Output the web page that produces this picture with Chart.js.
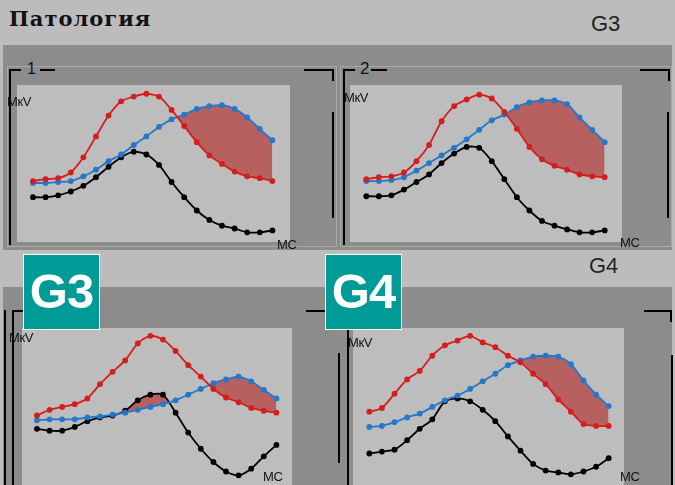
<!DOCTYPE html>
<html>
<head>
<meta charset="utf-8">
<script src="https://cdn.jsdelivr.net/npm/chart.js@4.4.1/dist/chart.umd.min.js"></script>
<style>
  html, body { margin: 0; padding: 0; }
  body { width: 675px; height: 485px; position: relative; overflow: hidden; background: #bcbcbc; font-family: "Liberation Sans", Arial, sans-serif; }
  .band { position: absolute; background: #8c8c8c; }
  .plot { position: absolute; background: #bdbdbd; }
  .frame { position: absolute; border: 1px solid #a9a9a9; box-sizing: border-box; }
  .ln { position: absolute; background: #000; }
  .title { position: absolute; font-family: "DejaVu Serif", serif; font-weight: bold; font-size: 21px; letter-spacing: 1px; color: #111; line-height: 21px; }
  .glabel { position: absolute; font-size: 22px; color: #222; line-height: 22px; }
  .unit { position: absolute; font-size: 13px; color: #111; line-height: 13px; letter-spacing: -0.4px; }
  .num { position: absolute; font-size: 16px; color: #111; line-height: 16px; }
  .badge { position: absolute; width: 77px; height: 76px; background: #009a97; border: 1.5px solid #fff; box-sizing: border-box;
           color: #fff; font-weight: bold; font-size: 49px; line-height: 73px; text-align: center; letter-spacing: -1px; }
  canvas { position: absolute; }
</style>
</head>
<body>

<div class="title" style="left:9px; top:8px;">Патология</div>
<div class="glabel" style="left:591px; top:13px;">G3</div>

<!-- upper strip with leads 1 and 2 -->
<div class="band" style="left:3px; top:45px; width:669px; height:205px;"></div>
<div class="frame" style="left:7px; top:66px; width:330px; height:181px;"></div>
<div class="frame" style="left:340px; top:66px; width:332px; height:181px;"></div>
<div class="plot" style="left:17px; top:85px; width:273px; height:157px;"></div>
<div class="plot" style="left:350px; top:85px; width:272px; height:157px;"></div>

<!-- lead 1 brackets -->
<div class="ln" style="left:9px; top:69px; width:2px; height:176px;"></div>
<div class="ln" style="left:9px; top:69px; width:12px; height:2px;"></div>
<div class="num" style="left:27px; top:61px;">1</div>
<div class="ln" style="left:40px; top:69px; width:15px; height:2px;"></div>
<div class="ln" style="left:304px; top:69px; width:30px; height:2px;"></div>
<div class="ln" style="left:332px; top:69px; width:2px; height:12px;"></div>
<div class="ln" style="left:332px; top:112px; width:2px; height:106px;"></div>

<!-- lead 2 brackets -->
<div class="ln" style="left:343px; top:69px; width:2px; height:176px;"></div>
<div class="ln" style="left:343px; top:69px; width:12px; height:2px;"></div>
<div class="num" style="left:360px; top:61px; font-size:17px;">2</div>
<div class="ln" style="left:371px; top:69px; width:16px; height:2px;"></div>
<div class="ln" style="left:640px; top:69px; width:30px; height:2px;"></div>
<div class="ln" style="left:668px; top:69px; width:2px; height:12px;"></div>
<div class="ln" style="left:667px; top:112px; width:2px; height:106px;"></div>

<canvas id="c1" width="273" height="157" style="left:17px; top:85px;"></canvas>
<canvas id="c2" width="272" height="157" style="left:350px; top:85px;"></canvas>

<div class="unit" style="left:7px; top:95px;">МкV</div>
<div class="unit" style="left:344px; top:91px;">МкV</div>
<div class="unit" style="left:277px; top:238px;">МС</div>
<div class="unit" style="left:620px; top:236px;">МС</div>

<!-- lower strip -->
<div class="glabel" style="left:589px; top:255px;">G4</div>
<div class="band" style="left:3px; top:287px; width:669px; height:198px;"></div>
<div class="plot" style="left:22px; top:328px; width:270px; height:157px;"></div>
<div class="plot" style="left:353px; top:328px; width:271px; height:157px;"></div>

<!-- lead 3 brackets -->
<div class="ln" style="left:4px; top:310px; width:2px; height:175px;"></div>
<div class="ln" style="left:12px; top:310px; width:2px; height:175px;"></div>
<div class="ln" style="left:12px; top:310px; width:11px; height:2px;"></div>
<div class="ln" style="left:306px; top:310px; width:28px; height:2px;"></div>
<div class="ln" style="left:338px; top:353px; width:2px; height:110px;"></div>

<!-- lead 4 brackets -->
<div class="ln" style="left:347px; top:310px; width:2px; height:175px;"></div>
<div class="ln" style="left:644px; top:310px; width:28px; height:2px;"></div>
<div class="ln" style="left:670px; top:310px; width:2px; height:12px;"></div>
<div class="ln" style="left:671px; top:355px; width:2px; height:130px;"></div>

<canvas id="c3" width="270" height="157" style="left:22px; top:328px;"></canvas>
<canvas id="c4" width="271" height="157" style="left:353px; top:328px;"></canvas>

<div class="unit" style="left:9px; top:331px;">МкV</div>
<div class="unit" style="left:348px; top:336px;">МкV</div>
<div class="unit" style="left:263px; top:470px;">МС</div>
<div class="unit" style="left:620px; top:470px;">МС</div>

<div class="badge" style="left:23px; top:254px;">G3</div>
<div class="badge" style="left:325px; top:254px;">G4</div>

<script>
// sample numbers along the time axis
const samples = [0, 1, 2, 3, 4, 5, 6, 7, 8, 9, 10, 11, 12, 13, 14, 15, 16, 17, 18, 19];

// lead 1
const lead1Red   = [60, 62, 63, 69, 85, 107, 129, 144, 149, 152, 149, 135, 118, 101, 87, 78, 70, 65, 63, 60];
const lead1Blue  = [58, 58, 59, 60, 65, 72, 81, 88, 98, 107, 117, 125, 130, 136, 139, 140, 136, 127, 115, 103];
const lead1Black = [43, 43, 45, 49, 55, 64, 75, 85, 91, 88, 77, 59, 43, 29, 19, 13, 10, 6, 6, 8];

// lead 2
const lead2Red   = [62, 64, 65, 69, 81, 98, 123, 139, 146, 151, 147, 133, 115, 96, 83, 76, 72, 67, 65, 64];
const lead2Blue  = [60, 60, 61, 64, 71, 79, 87, 95, 104, 114, 124, 130, 138, 143, 145, 145, 141, 127, 114, 101];
const lead2Black = [44, 44, 45, 51, 59, 67, 79, 89, 96, 95, 81, 62, 43, 29, 18, 13, 9, 6, 6, 8];

// lead G3
const lead3Red   = [69, 75, 78, 81, 87, 102, 115, 127, 145, 153, 149, 137, 122, 110, 97, 88, 83, 77, 74, 72];
const lead3Blue  = [64, 65, 65, 65, 67, 68, 70, 72, 75, 78, 81, 85, 91, 97, 103, 107, 110, 105, 96, 87];
const lead3Black = [55, 53, 53, 57, 63, 67, 69, 74, 85, 91, 91, 72, 51, 34, 20, 10, 6, 13, 26, 38];

// lead G4
const lead4Red   = [73, 77, 92, 107, 116, 132, 143, 148, 153, 146, 141, 132, 125, 113, 102, 86, 73, 60, 58, 58];
const lead4Blue  = [57, 58, 62, 67, 71, 78, 85, 90, 97, 105, 113, 122, 127, 131, 132, 131, 123, 106, 91, 79];
const lead4Black = [29, 31, 33, 43, 55, 65, 84, 87, 84, 75, 63, 47, 32, 18, 11, 9, 7, 10, 15, 24];

const RED = '#d41e1e';
const BLUE = '#2477c9';
const BLACK = '#000000';
const PATCH = 'rgb(183, 96, 96)';

function series(values) {
  return values.map((v, i) => ({ x: samples[i], y: v }));
}

function line(values, color, fill) {
  return {
    data: series(values),
    borderColor: color,
    backgroundColor: color,
    pointBackgroundColor: color,
    pointBorderColor: color,
    pointRadius: 2.9,
    pointBorderWidth: 0,
    borderWidth: 1.8,
    tension: 0.25,
    fill: fill
  };
}

function drawLead(id, red, blue, black, xMin, xMax, blackPatch) {
  new Chart(document.getElementById(id), {
    type: 'line',
    data: {
      datasets: [
        // red above blue is left open, blue above red is shaded
        line(red, RED, { target: 1, above: 'transparent', below: PATCH }),
        line(blue, BLUE, false),
        line(black, BLACK, blackPatch ? { target: 1, above: PATCH, below: 'transparent' } : false)
      ]
    },
    options: {
      responsive: false,
      animation: false,
      devicePixelRatio: 1,
      clip: false,
      layout: { padding: 0 },
      plugins: {
        legend: { display: false },
        tooltip: { enabled: false },
        filler: { drawTime: 'beforeDatasetsDraw' }
      },
      scales: {
        x: { type: 'linear', min: xMin, max: xMax, display: false },
        y: { type: 'linear', min: 0, max: 157, display: false }
      }
    }
  });
}

drawLead('c1', lead1Red, lead1Blue, lead1Black, -0.95, 20.08, false);
drawLead('c2', lead2Red, lead2Blue, lead2Black, -0.98, 20.06, false);
drawLead('c3', lead3Red, lead3Blue, lead3Black, -0.87, 19.92, true);
drawLead('c4', lead4Red, lead4Blue, lead4Black, -0.98, 19.9, false);
</script>
</body>
</html>
